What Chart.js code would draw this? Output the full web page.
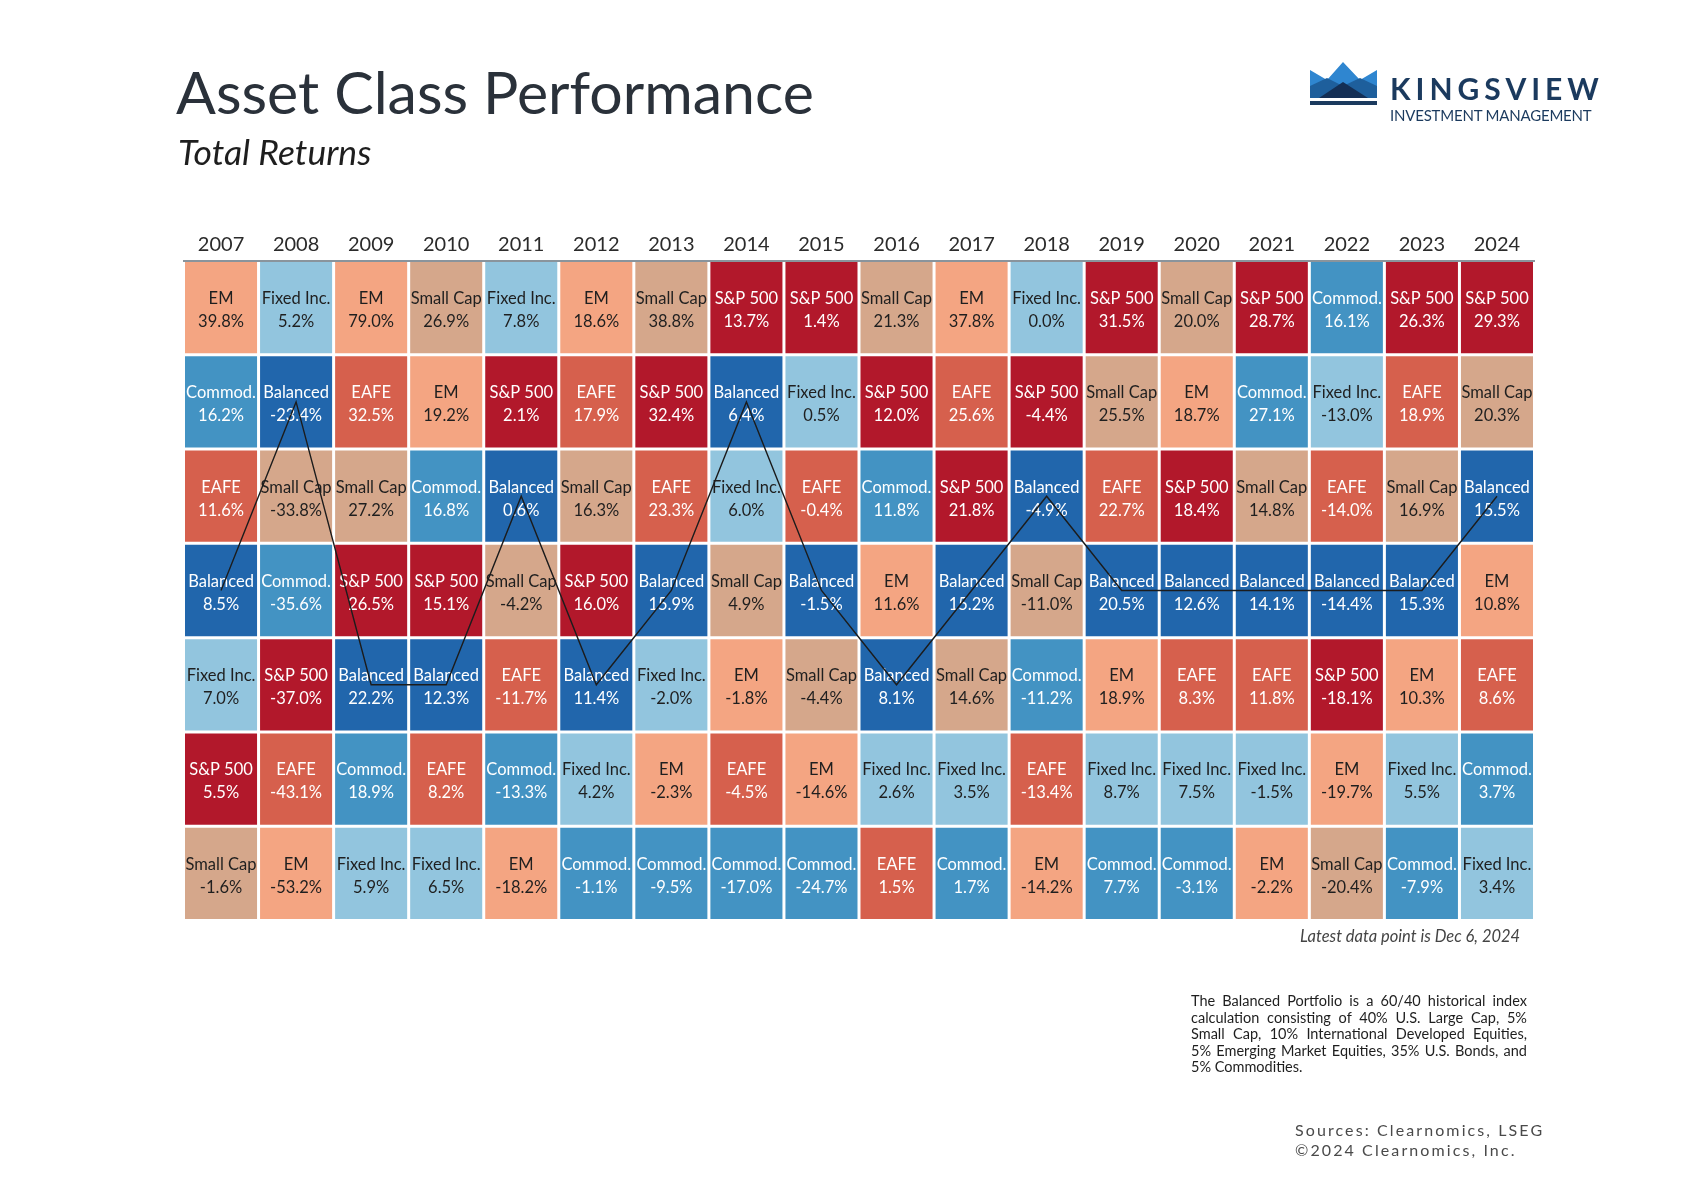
<!DOCTYPE html>
<html>
<head>
<meta charset="utf-8">
<script src="https://cdn.jsdelivr.net/npm/chart.js@4.4.1/dist/chart.umd.min.js"></script>
<style>
  html, body { margin: 0; padding: 0; background: #fff; }
  body { width: 1704px; height: 1200px; position: relative; overflow: hidden; font-family: Lato, "Open Sans", sans-serif; }
  #grid { position: absolute; left: 0; top: 0; }
  .txt { position: absolute; white-space: nowrap; }
  #title { left: 176px; top: 62px; font-size: 59px; line-height: 59px; color: #2a313a; }
  #subtitle { left: 178px; top: 134px; font-size: 35.5px; line-height: 36px; font-style: italic; color: #1e1e1e; }
  #brand { left: 1390px; top: 73px; font-size: 30px; line-height: 30px; font-weight: 700; color: #1b3a5e; letter-spacing: 5px; }
  #brand2 { left: 1390px; top: 107px; font-size: 15px; line-height: 16px; color: #1b3a5e; letter-spacing: -0.2px; }
  #crown { position: absolute; left: 1310px; top: 62px; }
  #latest { left: 1300px; top: 928px; font-size: 16.5px; line-height: 16px; font-style: italic; color: #444; }
  #note { position: absolute; left: 1191px; top: 993px; width: 336px; font-size: 14.5px; line-height: 16.6px; color: #1e1e1e; }
  #note div { text-align: justify; text-align-last: justify; white-space: nowrap; }
  #note div.last { text-align: left; text-align-last: left; }
  #sources { left: 1295px; top: 1120px; font-size: 16px; line-height: 20px; color: #4a4a4a; letter-spacing: 2.1px; }
</style>
</head>
<body>
<canvas id="grid" width="1704" height="1200"></canvas>

<div id="title" class="txt">Asset Class Performance</div>
<div id="subtitle" class="txt">Total Returns</div>

<svg id="crown" width="68" height="44" viewBox="0 0 68 44">
  <polygon points="0,8 17,18 33,0 50,18 67,8 67,36 0,36" fill="#2f86d0"/>
  <polygon points="0,24 17,16 33,24 50,16 67,24 67,36 0,36" fill="#1e5f9c"/>
  <polygon points="9,36 33,20 58,36" fill="#142f55"/>
  <rect x="0" y="39" width="67" height="4" fill="#1b3a5e"/>
</svg>
<div id="brand" class="txt">KINGSVIEW</div>
<div id="brand2" class="txt">INVESTMENT MANAGEMENT</div>

<div id="latest" class="txt">Latest data point is Dec 6, 2024</div>
<div id="note">
  <div>The Balanced Portfolio is a 60/40 historical index</div>
  <div>calculation consisting of 40% U.S. Large Cap, 5%</div>
  <div>Small Cap, 10% International Developed Equities,</div>
  <div>5% Emerging Market Equities, 35% U.S. Bonds, and</div>
  <div class="last">5% Commodities.</div>
</div>
<div id="sources" class="txt">Sources: Clearnomics, LSEG<br>©2024 Clearnomics, Inc.</div>

<script>
const years = ["2007", "2008", "2009", "2010", "2011", "2012", "2013", "2014", "2015",
               "2016", "2017", "2018", "2019", "2020", "2021", "2022", "2023", "2024"];

const assetNames = ["S&P 500", "EAFE", "EM", "Small Cap", "Fixed Inc.", "Commod.", "Balanced"];

// total returns in %, one value per year
const sp500Returns    = [5.5, -37.0, 26.5, 15.1, 2.1, 16.0, 32.4, 13.7, 1.4, 12.0, 21.8, -4.4, 31.5, 18.4, 28.7, -18.1, 26.3, 29.3];
const eafeReturns     = [11.6, -43.1, 32.5, 8.2, -11.7, 17.9, 23.3, -4.5, -0.4, 1.5, 25.6, -13.4, 22.7, 8.3, 11.8, -14.0, 18.9, 8.6];
const emReturns       = [39.8, -53.2, 79.0, 19.2, -18.2, 18.6, -2.3, -1.8, -14.6, 11.6, 37.8, -14.2, 18.9, 18.7, -2.2, -19.7, 10.3, 10.8];
const smallCapReturns = [-1.6, -33.8, 27.2, 26.9, -4.2, 16.3, 38.8, 4.9, -4.4, 21.3, 14.6, -11.0, 25.5, 20.0, 14.8, -20.4, 16.9, 20.3];
const fixedIncReturns = [7.0, 5.2, 5.9, 6.5, 7.8, 4.2, -2.0, 6.0, 0.5, 2.6, 3.5, 0.0, 8.7, 7.5, -1.5, -13.0, 5.5, 3.4];
const commodReturns   = [16.2, -35.6, 18.9, 16.8, -13.3, -1.1, -9.5, -17.0, -24.7, 11.8, 1.7, -11.2, 7.7, -3.1, 27.1, 16.1, -7.9, 3.7];
const balancedReturns = [8.5, -23.4, 22.2, 12.3, 0.6, 11.4, 15.9, 6.4, -1.5, 8.1, 15.2, -4.9, 20.5, 12.6, 14.1, -14.4, 15.3, 15.5];

const returnsByAsset = [sp500Returns, eafeReturns, emReturns, smallCapReturns,
                        fixedIncReturns, commodReturns, balancedReturns];

const assetColors     = ["#b2182b", "#d6604d", "#f4a582", "#d5a78b", "#92c5de", "#4393c3", "#2166ac"];
const assetTextColors = ["#ffffff", "#ffffff", "#1f1f1f", "#1f1f1f", "#1f1f1f", "#ffffff", "#ffffff"];
const BALANCED = 6;

// order the asset classes within each year, best return on top
const ranking = years.map((y, i) =>
  assetNames.map((n, a) => a).sort((p, q) => returnsByAsset[q][i] - returnsByAsset[p][i]));

const GAP = 0.016;
const rowDatasets = assetNames.map((n, row) => ({
  type: "bar",
  data: years.map(() => [row + GAP, row + 1 - GAP]),
  backgroundColor: ranking.map(order => assetColors[order[row]]),
  assetIdx: ranking.map(order => order[row]),
  grouped: false,
  barPercentage: 0.96,
  categoryPercentage: 1,
  borderWidth: 0,
  order: 2
}));

const balancedLine = {
  type: "line",
  data: ranking.map(order => order.indexOf(BALANCED) + 0.5),
  borderColor: "#1c1c1c",
  borderWidth: 1.4,
  pointRadius: 0,
  tension: 0,
  fill: false,
  order: 0
};

const cellLabels = {
  id: "cellLabels",
  afterDatasetDraw(chart, args) {
    const ds = chart.data.datasets[args.index];
    if (!ds.assetIdx) return;
    const ctx = chart.ctx;
    ctx.save();
    ctx.textAlign = "center";
    ctx.textBaseline = "middle";
    ctx.font = "16.5px Lato";
    args.meta.data.forEach((bar, i) => {
      const a = ds.assetIdx[i];
      const cy = (bar.y + bar.base) / 2;
      ctx.fillStyle = assetTextColors[a];
      ctx.fillText(assetNames[a], bar.x, cy - 9);
      ctx.fillText(returnsByAsset[a][i].toFixed(1) + "%", bar.x, cy + 14);
    });
    ctx.restore();
  }
};

new Chart("grid", {
  type: "bar",
  data: {
    labels: years,
    datasets: [...rowDatasets, balancedLine]
  },
  options: {
    responsive: false,
    animation: false,
    layout: { padding: { left: 183.5, right: 169.5, top: 220.5, bottom: 279.5 } },
    plugins: {
      legend: { display: false },
      tooltip: { enabled: false }
    },
    scales: {
      x: {
        position: "top",
        offset: true,
        grid: { display: false, drawTicks: false },
        border: { display: true, color: "#8a949c", width: 2 },
        ticks: { color: "#2b2b2b", font: { family: "Lato", size: 20 }, padding: 4 },
        afterFit: (scale) => { scale.height = 40; }
      },
      y: {
        display: false,
        reverse: true,
        min: 0,
        max: 7
      }
    }
  },
  plugins: [cellLabels]
});
</script>
</body>
</html>
